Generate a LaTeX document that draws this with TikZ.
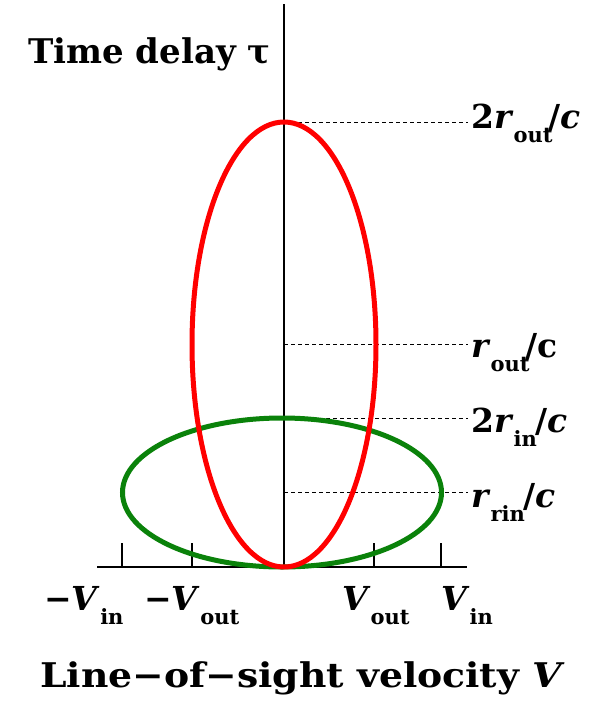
\documentclass[tikz,border=0pt]{standalone}
\usepackage{fontspec}
\setmainfont{DejaVu Serif}
\definecolor{ellred}{RGB}{255,0,0}
\definecolor{ellgreen}{RGB}{10,130,10}
\newcommand\subs[1]{\raisebox{-0.45em}{\fontsize{21}{24}\selectfont #1}}
\tikzset{
  axisline/.style={line width=2pt,black},
  tickline/.style={line width=1.6pt,black},
  guide/.style={line width=0.9pt,black,dash pattern=on 4pt off 3pt},
  orbit/.style={line width=5pt},
  lab/.style={anchor=base west,inner sep=0pt,font=\bfseries\fontsize{33}{40}\selectfont},
  ttl/.style={anchor=base west,inner sep=0pt,font=\bfseries\fontsize{34}{40}\selectfont},
}
\begin{document}
\begin{tikzpicture}[x=1pt,y=-1pt]
\useasboundingbox (0,0) rectangle (594,702);
% axes
\coordinate (O) at (284,567);
\coordinate (Top) at (284,4);
\coordinate (XL) at (97,567);
\coordinate (XR) at (467,567);
\draw[axisline] (O) -- (Top);
\draw[axisline] (XL) -- (XR);
\foreach \x in {122,192,374,441} \draw[tickline] (\x,567) -- (\x,543);
% guide lines
\coordinate (g1) at (284,122); \coordinate (g1e) at (468,122);
\coordinate (g2) at (284,344); \coordinate (g2e) at (468,344);
\coordinate (g3) at (284,418); \coordinate (g3e) at (468,418);
\coordinate (g4) at (284,492); \coordinate (g4e) at (468,492);
\draw[guide] (g1) -- (g1e);
\draw[guide] (g2) -- (g2e);
\draw[guide] (g3) -- (g3e);
\draw[guide] (g4) -- (g4e);
% ellipses
\draw[orbit,ellgreen] (282,492.5) ellipse [x radius=159.5pt, y radius=74.5pt];
\draw[orbit,ellred] (284,344.5) ellipse [x radius=92pt, y radius=222.5pt];
% right labels
\node[lab] (l1) at (471,128) {2\textit{r}\subs{out}\kern-0.12em/\textit{c}};
\node[lab] (l2) at (471,357) {\textit{r}\subs{out}\kern-0.12em/c};
\node[lab] (l3) at (471,432) {2\textit{r}\subs{in}\kern-0.05em/\textit{c}};
\node[lab] (l4) at (471,507) {\textit{r}\subs{rin}\kern-0.05em/\textit{c}};
% tick labels
\node[lab] (t1) at (44,610) {−\textit{V}\subs{in}};
\node[lab] (t2) at (144,610) {−\textit{V}\subs{out}};
\node[lab] (t3) at (342,610) {\textit{V}\subs{out}};
\node[lab] (t4) at (441,610) {\textit{V}\subs{in}};
% titles
\node[ttl] (yt) at (28,63) {Time delay τ};
\node[ttl] (xt) at (40,687) {\scalebox{1.11}[1]{Line−of−sight velocity \textit{V}}};
\end{tikzpicture}
\end{document}
